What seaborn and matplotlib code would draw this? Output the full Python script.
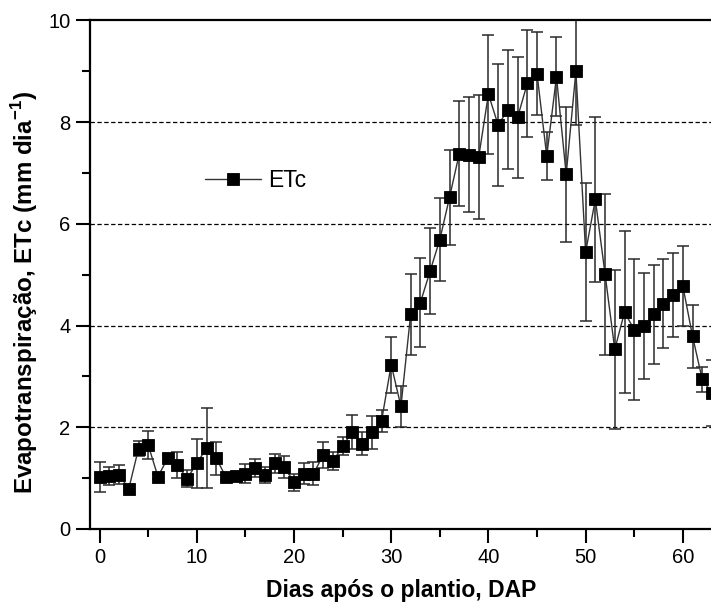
import numpy as np
import pandas as pd
import matplotlib
matplotlib.use("Agg")
import matplotlib.pyplot as plt
import seaborn as sns

# ---------------------------------------------------------------
# DATA
# ---------------------------------------------------------------
days = list(range(0, 64))
etc = [1.02, 1.04, 1.07, 0.79, 1.58, 1.65, 1.03, 1.39, 1.26, 0.99,
       1.29, 1.59, 1.39, 1.02, 1.05, 1.09, 1.20, 1.06, 1.29, 1.22,
       0.92, 1.09, 1.09, 1.45, 1.33, 1.63, 1.91, 1.68, 1.90, 2.12,
       3.23, 2.41, 4.22, 4.45, 5.07, 5.69, 6.52, 7.38, 7.36, 7.31,
       8.55, 7.94, 8.24, 8.09, 8.76, 8.95, 7.33, 8.89, 6.97, 9.00,
       5.44, 6.48, 5.01, 3.53, 4.26, 3.92, 3.99, 4.22, 4.43, 4.60,
       4.78, 3.79, 2.94, 2.67]
etc_err = [0.30, 0.17, 0.19, 0.04, 0.15, 0.28, 0.05, 0.06, 0.25, 0.17,
           0.48, 0.79, 0.33, 0.05, 0.08, 0.18, 0.18, 0.15, 0.19, 0.21,
           0.17, 0.20, 0.22, 0.26, 0.18, 0.17, 0.33, 0.22, 0.32, 0.22,
           0.55, 0.41, 0.79, 0.87, 0.85, 0.81, 0.93, 1.04, 1.13, 1.22,
           1.17, 1.20, 1.17, 1.19, 1.05, 0.82, 0.47, 0.78, 1.32, 1.06,
           1.36, 1.62, 1.58, 1.57, 1.59, 1.39, 1.05, 0.97, 0.87, 0.82,
           0.78, 0.62, 0.24, 0.65]

df = pd.DataFrame({"DAP": days, "ETc": etc, "err": etc_err})

# ---------------------------------------------------------------
# STYLE
# ---------------------------------------------------------------
sns.set_style("ticks")
plt.rcParams["font.family"] = ["Liberation Sans", "DejaVu Sans"]
plt.rcParams["text.color"] = "black"
plt.rcParams["axes.labelcolor"] = "black"
plt.rcParams["mathtext.fontset"] = "custom"
plt.rcParams["mathtext.rm"] = "Liberation Sans"
plt.rcParams["mathtext.bf"] = "Liberation Sans:bold"

fig = plt.figure(figsize=(7.11, 6.05), dpi=100)
# axes placed in pixel terms; right part runs past the figure edge like the reference
ax = fig.add_axes([89.9 / 711, 76 / 605, 631.8 / 711, 508.7 / 605])

# horizontal dashed guides
for yv in [2, 4, 6, 8]:
    ax.axhline(yv, color="black", lw=0.9, ls=(0, (3.5, 2)), zorder=1)

ax.errorbar(df["DAP"], df["ETc"], yerr=df["err"], fmt="none",
            ecolor="#2a2a2a", elinewidth=1.1, capsize=4, capthick=1.1, zorder=2)

sns.lineplot(data=df, x="DAP", y="ETc", ax=ax, color="#333333", lw=1.0,
             marker="s", markersize=8, markerfacecolor="black",
             markeredgecolor="black", markeredgewidth=0.6, label="ETc", zorder=3)

ax.set_xlim(-1, 64)
ax.set_ylim(0, 10)
ax.set_xticks(range(0, 61, 10))
ax.set_xticks(range(5, 61, 10), minor=True)
ax.set_yticks(range(0, 11, 2))
ax.set_yticks(range(1, 10, 2), minor=True)
ax.tick_params(which="major", direction="out", length=10, width=1.5,
               labelsize=14.5, pad=4, colors="black")
ax.tick_params(which="minor", direction="out", length=5.5, width=1.5,
               colors="black")

for side in ["left", "bottom", "top", "right"]:
    ax.spines[side].set_linewidth(1.6)
    ax.spines[side].set_color("black")

ax.set_xlabel("Dias após o plantio, DAP", fontsize=16.5, fontweight="bold",
              color="black")
ax.set_ylabel(r"Evapotranspiração, ETc (mm dia$^{\mathbf{-1}}$)",
              fontsize=17.4, fontweight="bold", color="black")
ax.xaxis.set_label_coords(0.492, -0.098)
ax.yaxis.set_label_coords(-0.079, 0.465)

leg = ax.legend(loc="center left", bbox_to_anchor=(0.182, 0.685), frameon=False,
                fontsize=16.5, handlelength=2.45, handletextpad=0.3,
                borderpad=0, borderaxespad=0, markerscale=1.0)
for t in leg.get_texts():
    t.set_color("black")

plt.savefig("out.png", dpi=100)
plt.close()
